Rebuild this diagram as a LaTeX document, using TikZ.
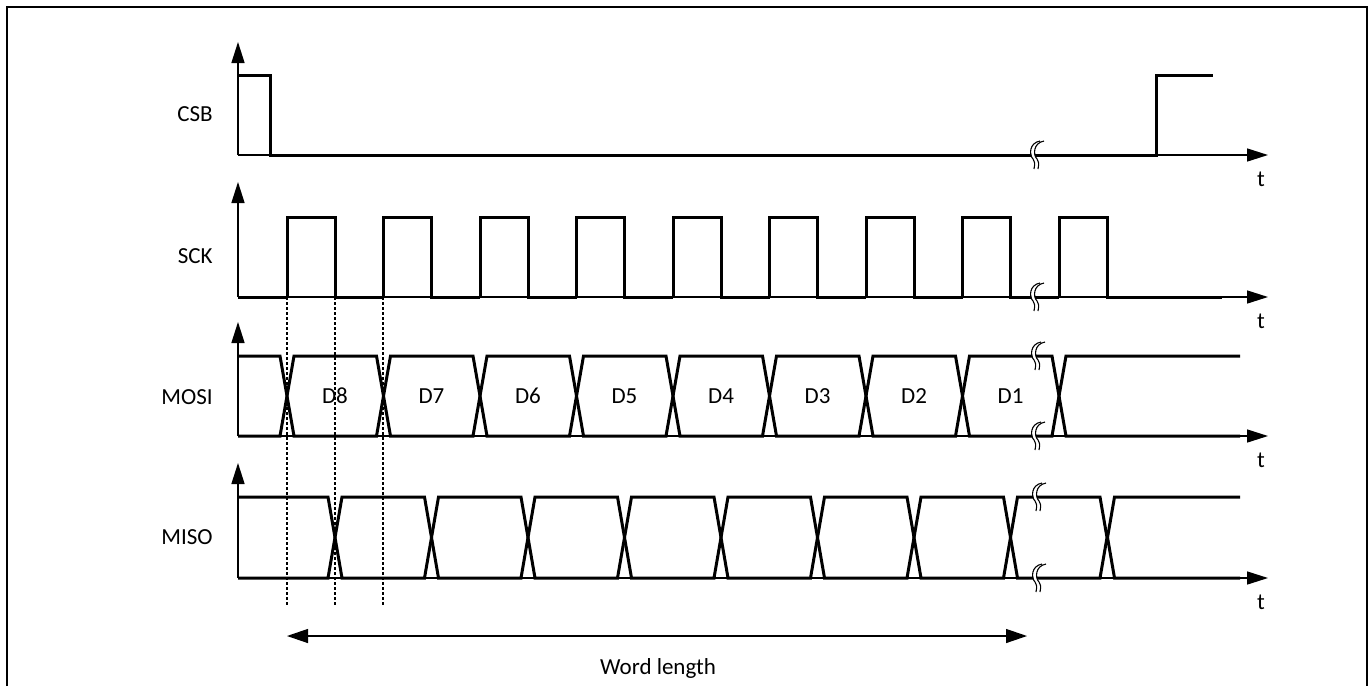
\documentclass[tikz,border=0pt]{standalone}
\usepackage{fontspec}
\setmainfont{Carlito}
\usetikzlibrary{arrows.meta}

\tikzset{every picture/.style={line width=0.75pt}}
\tikzset{
  axis/.style={line width=1.5pt, -{Triangle[length=21pt,width=13pt]}},
  sig/.style={line width=3pt, line join=miter},
  guide/.style={line width=1.3pt, dash pattern=on 2.5pt off 2.5pt},
  span/.style={line width=1.3pt, {Triangle[length=21pt,width=14pt]}-{Triangle[length=21pt,width=14pt]}},
  lbl/.style={anchor=east, inner sep=0pt, font=\fontsize{23}{27}\selectfont},
  tlbl/.style={inner sep=0pt, font=\fontsize{23}{27}\selectfont},
  frame/.style={line width=2.5pt}
}

% break mark on a trace: #1 = x, #2 = y
\newcommand{\brkmark}[2]{%
  \draw[white, line width=3pt] ({#1+7},{#2-14}) .. controls ({#1-4},{#2-12}) and ({#1-4},{#2}) .. ({#1},{#2+4}) .. controls ({#1+2},{#2+8}) .. ({#1+1},{#2+14});
  \foreach \d in {-2,2} {
    \draw[line width=1.1pt] ({#1+7+\d},{#2-14}) .. controls ({#1-4+\d},{#2-12}) and ({#1-4+\d},{#2}) .. ({#1+\d},{#2+4}) .. controls ({#1+2+\d},{#2+8}) .. ({#1+1+\d},{#2+14});
  }%
}

\begin{document}
\begin{tikzpicture}[x=1pt,y=1pt,yscale=-1,xscale=1]
    \useasboundingbox (0,0) rectangle (1370,686);
    % outer frame
    \draw[frame] (7,686) -- (7,7) -- (1367,7) -- (1367,686);

    % axes
    \foreach \lo/\top in {155/42, 297/182, 436/322, 578/463} {
      \draw[axis] (238,\lo) -- (238,\top);
      \draw[axis] (238,\lo) -- (1268,\lo);
    }

    % signal names
    \node[lbl] (csb) at (213,114) {CSB};
    \node[lbl] (sck) at (213,256) {SCK};
    \node[lbl] (mosi) at (213,397) {MOSI};
    \node[lbl] (miso) at (213,537) {MISO};
    \foreach \lo/\name in {155/t1, 297/t2, 436/t3, 578/t4} {
      \node[tlbl] (\name) at (1261,\lo+24) {t};
    }

    % guide lines
    \foreach \gx in {287,335,383} {
      \draw[guide] (\gx,297) -- (\gx,606);
    }

    % CSB
    \draw[sig] (238,75) -- (270,75) -- (270,155) -- (1156,155) -- (1156,75) -- (1213,75);
    \brkmark{1035}{155}

    % SCK
    \draw[sig] (238,297) -- (287,297);
    \foreach \k in {0,...,8} {
      \draw[sig] ({287+96.5*\k},297) -- ({287+96.5*\k},217) -- ({335+96.5*\k},217) -- ({335+96.5*\k},297) -- ({383.5+96.5*\k},297);
    }
    \draw[sig] (1107,297) -- (1222,297);
    \brkmark{1035}{297}

    % MOSI
    \draw[sig] (238,356) -- (280,356) -- (287,396) -- (280,436) -- (238,436);
    \foreach \k/\name in {0/8,1/7,2/6,3/5,4/4,5/3,6/2,7/1} {
      \draw[sig] ({287+96.5*\k},396) -- ({294+96.5*\k},356) -- ({376.5+96.5*\k},356) -- ({383.5+96.5*\k},396)
        -- ({376.5+96.5*\k},436) -- ({294+96.5*\k},436) -- cycle;
      \node[tlbl] (d\name) at ({335+96.5*\k},396) {D\name};
    }
    \draw[sig] (1240,356) -- (1066,356) -- (1059,396) -- (1066,436) -- (1240,436);
    \brkmark{1036}{356}
    \brkmark{1036}{436}

    % MISO
    \draw[sig] (238,497) -- (328,497) -- (335,537.5) -- (328,578) -- (238,578);
    \foreach \k in {0,...,7} {
      \draw[sig] ({335+96.5*\k},537.5) -- ({342+96.5*\k},497) -- ({424.5+96.5*\k},497) -- ({431.5+96.5*\k},537.5)
        -- ({424.5+96.5*\k},578) -- ({342+96.5*\k},578) -- cycle;
    }
    \draw[sig] (1240,497) -- (1114.5,497) -- (1107.5,537.5) -- (1114.5,578) -- (1240,578);
    \brkmark{1037}{497}
    \brkmark{1037}{578}

    % word length
    \coordinate (wl-l) at (287,636);
    \coordinate (wl-r) at (1027,636);
    \draw[span] (wl-l) -- (wl-r);
    \node[tlbl] (wl) at (658,668) {Word length};
\end{tikzpicture}
\end{document}
